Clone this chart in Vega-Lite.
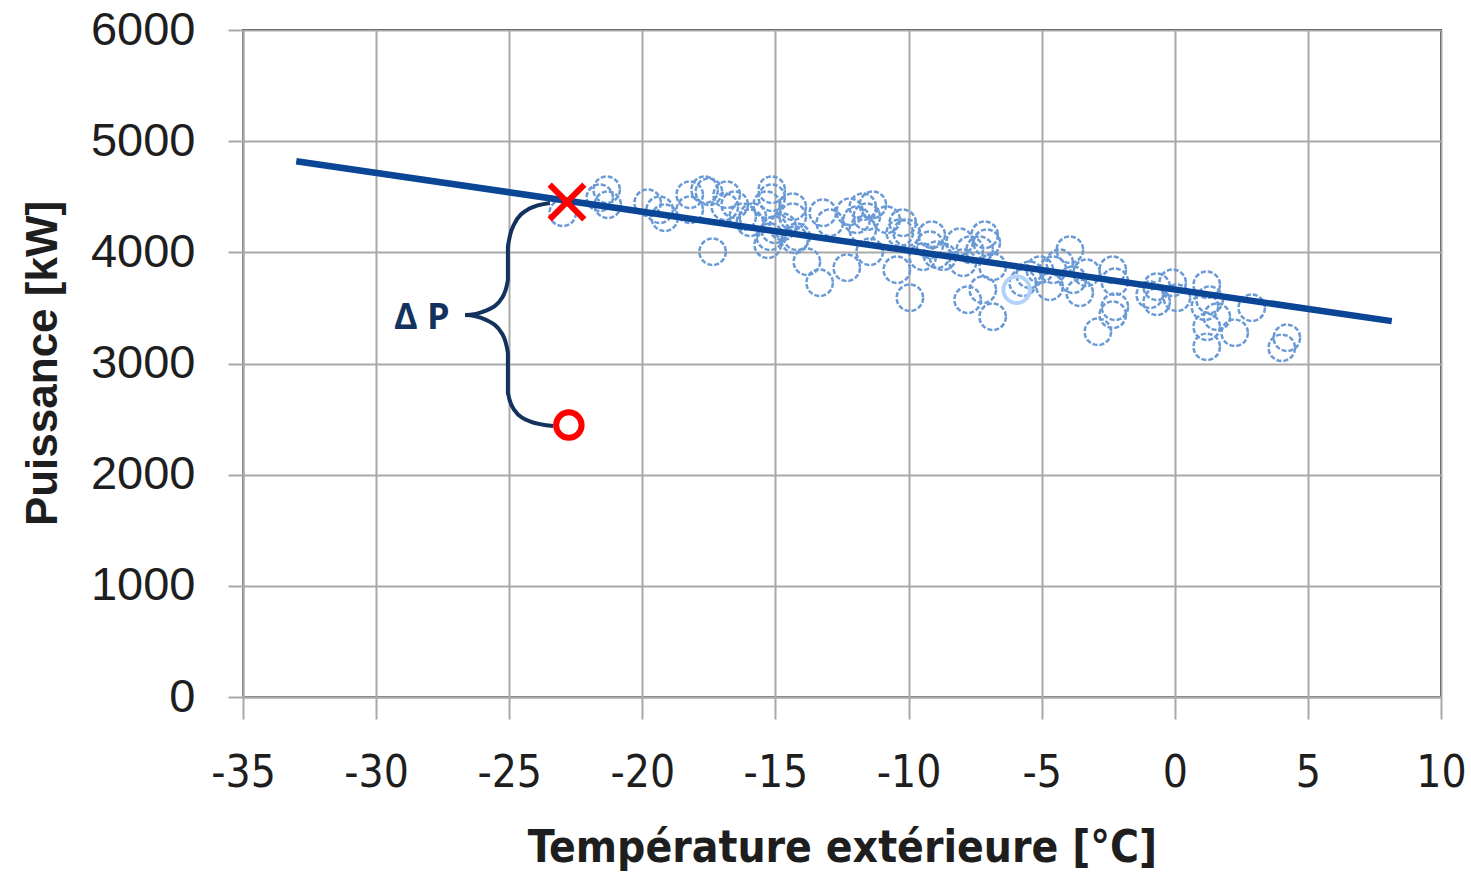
{
  "$schema": "https://vega.github.io/schema/vega-lite/v6.json",
  "width": 1198,
  "height": 667,
  "autosize": {"type": "none"},
  "padding": {"left": 243, "top": 30, "right": 30, "bottom": 175},
  "background": "white",
  "config": {
    "view": {"stroke": "#333333", "strokeWidth": 2},
    "axis": {
      "grid": true,
      "gridColor": "#a9a9a9",
      "gridWidth": 2,
      "domainColor": "#a9a9a9",
      "domainWidth": 2,
      "tickColor": "#a9a9a9",
      "tickWidth": 2,
      "labelColor": "#1e1e1e",
      "titleColor": "#1e1e1e",
      "labelFlush": false,
      "labelOverlap": false
    }
  },
  "datasets": {
    "pts": [
      {"t": -22.99, "p": 4355}, {"t": -21.6, "p": 4491}, {"t": -21.34, "p": 4563}, {"t": -21.3, "p": 4428},
      {"t": -19.8, "p": 4446}, {"t": -19.35, "p": 4383}, {"t": -19.16, "p": 4311}, {"t": -18.22, "p": 4518},
      {"t": -18.22, "p": 4383}, {"t": -17.66, "p": 4563}, {"t": -17.36, "p": 4005}, {"t": -17.5, "p": 4545},
      {"t": -16.83, "p": 4518}, {"t": -16.9, "p": 4410}, {"t": -16.53, "p": 4428}, {"t": -16.23, "p": 4320},
      {"t": -15.85, "p": 4320}, {"t": -15.96, "p": 4266}, {"t": -15.14, "p": 4563}, {"t": -15.14, "p": 4491},
      {"t": -15.33, "p": 4428}, {"t": -15.21, "p": 4140}, {"t": -15.29, "p": 4068}, {"t": -15.03, "p": 4203},
      {"t": -14.35, "p": 4410}, {"t": -14.35, "p": 4320}, {"t": -14.73, "p": 4230}, {"t": -14.2, "p": 4140},
      {"t": -14.28, "p": 4113}, {"t": -13.82, "p": 3915}, {"t": -13.34, "p": 3726}, {"t": -13.22, "p": 4356},
      {"t": -12.96, "p": 4266}, {"t": -12.21, "p": 4365}, {"t": -12.32, "p": 3861}, {"t": -11.95, "p": 4293},
      {"t": -11.72, "p": 4203}, {"t": -11.72, "p": 4410}, {"t": -11.34, "p": 4428}, {"t": -11.57, "p": 4320},
      {"t": -10.82, "p": 4293}, {"t": -10.22, "p": 4266}, {"t": -10.07, "p": 4176}, {"t": -10.33, "p": 4176},
      {"t": -11.46, "p": 4005}, {"t": -10.44, "p": 3843}, {"t": -9.95, "p": 3591}, {"t": -9.13, "p": 4158},
      {"t": -9.2, "p": 4068}, {"t": -8.71, "p": 3960}, {"t": -9.47, "p": 3960}, {"t": -8.94, "p": 3978},
      {"t": -8.08, "p": 4095}, {"t": -7.7, "p": 4023}, {"t": -7.96, "p": 3906}, {"t": -7.14, "p": 4158},
      {"t": -7.06, "p": 4086}, {"t": -7.33, "p": 4023}, {"t": -6.84, "p": 3870}, {"t": -7.78, "p": 3573},
      {"t": -7.21, "p": 3663}, {"t": -6.84, "p": 3420}, {"t": -5.71, "p": 3726}, {"t": -5.45, "p": 3798},
      {"t": -5.07, "p": 3843}, {"t": -4.7, "p": 3690}, {"t": -4.58, "p": 3843}, {"t": -3.94, "p": 4023},
      {"t": -4.32, "p": 3906}, {"t": -3.83, "p": 3753}, {"t": -3.57, "p": 3636}, {"t": -3.31, "p": 3816},
      {"t": -2.33, "p": 3843}, {"t": -2.25, "p": 3735}, {"t": -2.25, "p": 3510}, {"t": -2.33, "p": 3438},
      {"t": -2.89, "p": 3285}, {"t": -0.94, "p": 3618}, {"t": -0.68, "p": 3690}, {"t": -0.68, "p": 3555},
      {"t": -0.08, "p": 3726}, {"t": 0.08, "p": 3591}, {"t": 1.2, "p": 3708}, {"t": 1.13, "p": 3510},
      {"t": 1.31, "p": 3573}, {"t": 1.2, "p": 3330}, {"t": 1.58, "p": 3420}, {"t": 1.2, "p": 3150},
      {"t": 2.25, "p": 3276}, {"t": 2.89, "p": 3501}, {"t": 4.21, "p": 3231}, {"t": 4.02, "p": 3141}
    ],
    "highlight": [{"t": -5.94, "p": 3663}],
    "fit": [{"t": -33, "p": 4820}, {"t": 8.15, "p": 3381}],
    "brace": [
      {"i": 1, "t": -23.47, "p": 4444}, {"i": 2, "t": -24.26, "p": 4391}, {"i": 3, "t": -24.83, "p": 4246},
      {"i": 4, "t": -25.05, "p": 4048}, {"i": 5, "t": -25.05, "p": 3751}, {"i": 6, "t": -25.26, "p": 3594},
      {"i": 7, "t": -25.85, "p": 3478}, {"i": 8, "t": -26.66, "p": 3436}, {"i": 9, "t": -25.85, "p": 3390},
      {"i": 10, "t": -25.26, "p": 3265}, {"i": 11, "t": -25.05, "p": 3094}, {"i": 12, "t": -25.05, "p": 2735},
      {"i": 13, "t": -24.82, "p": 2586}, {"i": 14, "t": -24.2, "p": 2477}, {"i": 15, "t": -23.35, "p": 2438}
    ],
    "label": [{"t": -28.28, "p": 3409, "txt": "Δ P"}],
    "cross": [{"t": -22.83, "p": 4453}],
    "ring": [{"t": -22.76, "p": 2446}]
  },
  "layer": [
    {
      "data": {"name": "pts"},
      "mark": {"type": "point", "shape": "circle", "filled": false, "size": 700, "stroke": "#6a9ad6", "strokeWidth": 2.5, "strokeDash": [5, 2], "opacity": 1},
      "encoding": {
        "x": {
          "field": "t", "type": "quantitative",
          "scale": {"domain": [-35, 10], "nice": false, "zero": false},
          "axis": {
            "values": [-35, -30, -25, -20, -15, -10, -5, 0, 5, 10],
            "labelExpr": "'' + datum.value",
            "labelFlush": false,
            "tickSize": 22,
            "labelPadding": 32,
            "labelFont": "DejaVu Sans Condensed, Liberation Sans",
            "labelFontSize": 44,
            "labelBaseline": "top",
            "title": "Température extérieure [°C]",
            "titleFont": "DejaVu Sans Condensed, Liberation Sans",
            "titleFontWeight": "bold",
            "titleFontSize": 44,
            "titleBaseline": "alphabetic",
            "titleY": 164
          }
        },
        "y": {
          "field": "p", "type": "quantitative",
          "scale": {"domain": [0, 6000], "nice": false},
          "axis": {
            "values": [0, 1000, 2000, 3000, 4000, 5000, 6000],
            "labelExpr": "'' + datum.value",
            "labelFlush": false,
            "tickSize": 15,
            "labelPadding": 33,
            "labelFont": "Liberation Sans",
            "labelFontSize": 47,
            "title": "Puissance [kW]",
            "titleFont": "Liberation Sans",
            "titleFontWeight": "bold",
            "titleFontSize": 44,
            "titleX": -200,
            "titleY": 333,
            "titleAngle": -90,
            "titleAlign": "center",
            "titleBaseline": "middle"
          }
        }
      }
    },
    {
      "data": {"name": "highlight"},
      "mark": {"type": "point", "shape": "circle", "filled": false, "size": 700, "stroke": "#b4d3f8", "strokeWidth": 4, "opacity": 1},
      "encoding": {
        "x": {"field": "t", "type": "quantitative"},
        "y": {"field": "p", "type": "quantitative"}
      }
    },
    {
      "data": {"name": "fit"},
      "mark": {"type": "line", "color": "#0a4596", "strokeWidth": 6.5},
      "encoding": {
        "x": {"field": "t", "type": "quantitative"},
        "y": {"field": "p", "type": "quantitative"}
      }
    },
    {
      "data": {"name": "brace"},
      "mark": {"type": "line", "color": "#13325e", "strokeWidth": 4, "interpolate": "monotone"},
      "encoding": {
        "x": {"field": "t", "type": "quantitative"},
        "y": {"field": "p", "type": "quantitative"},
        "order": {"field": "i", "type": "quantitative"}
      }
    },
    {
      "data": {"name": "label"},
      "mark": {"type": "text", "font": "Open Sans", "fontWeight": "bold", "fontSize": 36, "color": "#13325e", "align": "center", "baseline": "middle"},
      "encoding": {
        "x": {"field": "t", "type": "quantitative"},
        "y": {"field": "p", "type": "quantitative"},
        "text": {"field": "txt"}
      }
    },
    {
      "data": {"name": "cross"},
      "mark": {"type": "point", "shape": "M-1,-1L1,1M1,-1L-1,1", "filled": false, "size": 1200, "stroke": "#ff0000", "strokeWidth": 6, "opacity": 1},
      "encoding": {
        "x": {"field": "t", "type": "quantitative"},
        "y": {"field": "p", "type": "quantitative"}
      }
    },
    {
      "data": {"name": "ring"},
      "mark": {"type": "point", "shape": "circle", "filled": false, "size": 650, "stroke": "#ff0000", "strokeWidth": 6, "opacity": 1},
      "encoding": {
        "x": {"field": "t", "type": "quantitative"},
        "y": {"field": "p", "type": "quantitative"}
      }
    }
  ]
}
